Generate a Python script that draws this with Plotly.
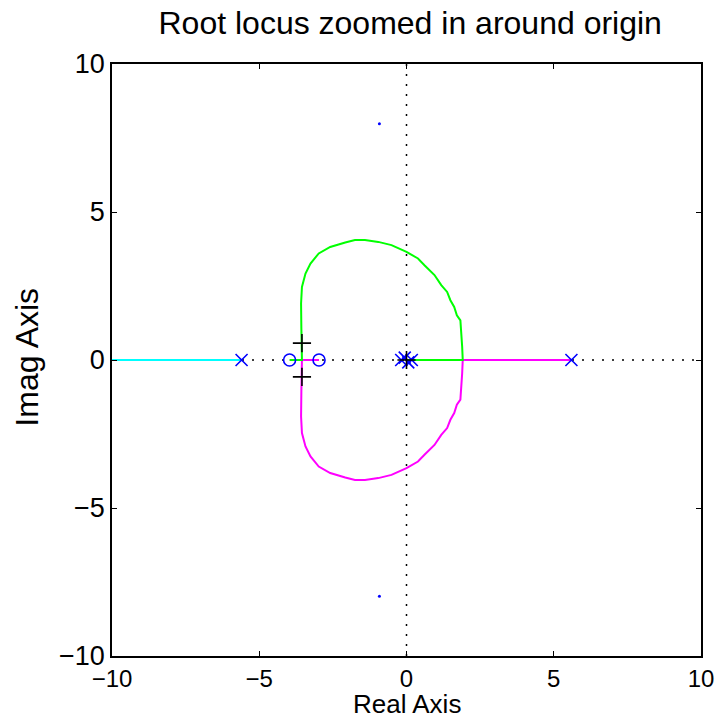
import plotly.graph_objects as go

# Open-loop poles and zeros
pole_re = [-5.6, 5.6, -0.18, -0.06, 0.06, 0.18]
pole_im = [0.0, 0.0, 0.0, 0.08, -0.08, 0.0]
zero_re = [-3.97, -2.97]
zero_im = [0.0, 0.0]

# Closed-loop roots at the selected gain
cl_re = [-3.55, -3.55, 0.0]
cl_im = [0.57, -0.57, 0.0]

# Far poles shown as small points
far_re = [-0.92, -0.92]
far_im = [7.98, -7.98]

# Upper complex branch (breakaway at ~1.91, break-in at ~-3.55)
arc_re = [1.91, 1.89, 1.87, 1.83, 1.71, 1.62, 1.49, 1.38, 1.18, 0.95, 0.61,
          0.39, 0.0, -0.51, -0.96, -1.41, -1.75, -2.08, -2.59, -2.98, -3.26,
          -3.43, -3.55, -3.58, -3.57, -3.55, -3.55]
arc_im = [0.0, 0.45, 0.89, 1.34, 1.51, 1.79, 2.02, 2.30, 2.53, 2.87, 3.20,
          3.43, 3.65, 3.88, 3.99, 4.05, 4.05, 3.97, 3.82, 3.60, 3.26,
          2.92, 2.47, 1.91, 1.06, 0.33, 0.0]

# Each branch: real-axis segment, complex arc, then into a zero
green_re = [0.0] + arc_re + [-3.97]
green_im = [0.0] + arc_im + [0.0]
magenta_re = [5.6] + arc_re + [-2.97]
magenta_im = [0.0] + [-v for v in arc_im] + [0.0]
cyan_re = [-5.6, -10.0]
cyan_im = [0.0, 0.0]

FONT = "Liberation Sans"

fig = go.Figure()

# dotted real and imaginary axes
fig.add_trace(go.Scatter(x=[-10, 10], y=[0, 0], mode="lines",
                         line=dict(color="black", width=1.5, dash="2px,8px"),
                         hoverinfo="skip"))
fig.add_trace(go.Scatter(x=[0, 0], y=[-10, 10], mode="lines",
                         line=dict(color="black", width=1.5, dash="2px,8px"),
                         hoverinfo="skip"))

fig.add_trace(go.Scatter(x=cyan_re, y=cyan_im, mode="lines",
                         line=dict(color="#00ffff", width=2)))
fig.add_trace(go.Scatter(x=magenta_re, y=magenta_im, mode="lines",
                         line=dict(color="#ff00ff", width=2)))
fig.add_trace(go.Scatter(x=green_re, y=green_im, mode="lines",
                         line=dict(color="#00ff00", width=2)))

fig.add_trace(go.Scatter(x=pole_re, y=pole_im, mode="markers",
                         marker=dict(symbol="x-thin", size=12, color="blue",
                                     line=dict(color="blue", width=1.6))))
fig.add_trace(go.Scatter(x=zero_re, y=zero_im, mode="markers",
                         marker=dict(symbol="circle-open", size=12, color="blue",
                                     line=dict(color="blue", width=1.6))))
fig.add_trace(go.Scatter(x=far_re, y=far_im, mode="markers",
                         marker=dict(symbol="circle", size=3, color="blue")))
fig.add_trace(go.Scatter(x=cl_re, y=cl_im, mode="markers",
                         marker=dict(symbol="cross-thin", size=13, color="black",
                                     line=dict(color="black", width=1.6))))

axis_common = dict(
    range=[-10, 10], tickvals=[-10, -5, 0, 5, 10],
    ticktext=["\u221210", "\u22125", "0", "5", "10"],
    showline=True, mirror="ticks", linecolor="black", linewidth=1.5,
    ticks="inside", ticklen=5, tickwidth=1.2, tickcolor="black",
    showgrid=False, zeroline=False,
)

fig.update_layout(
    width=726, height=720,
    margin=dict(l=112, r=21, t=64, b=64),
    paper_bgcolor="white", plot_bgcolor="white",
    showlegend=False,
    title=dict(text="Root locus zoomed in around origin", x=0.565, xanchor="center",
               y=0.968, yanchor="middle",
               font=dict(family=FONT, size=32, color="black")),
    xaxis=dict(axis_common, tickfont=dict(family=FONT, size=24, color="black")),
    yaxis=dict(axis_common, tickfont=dict(family=FONT, size=27, color="black")),
    annotations=[
        dict(text="Real Axis", xref="paper", yref="paper", x=0.5, y=-0.0811,
             xanchor="center", yanchor="middle", showarrow=False,
             font=dict(family=FONT, size=26, color="black")),
        dict(text="Imag Axis", xref="paper", yref="paper", x=-0.145, y=0.505,
             xanchor="center", yanchor="middle", textangle=-90, showarrow=False,
             font=dict(family=FONT, size=32, color="black")),
    ],
)

fig.write_html("out.html")
